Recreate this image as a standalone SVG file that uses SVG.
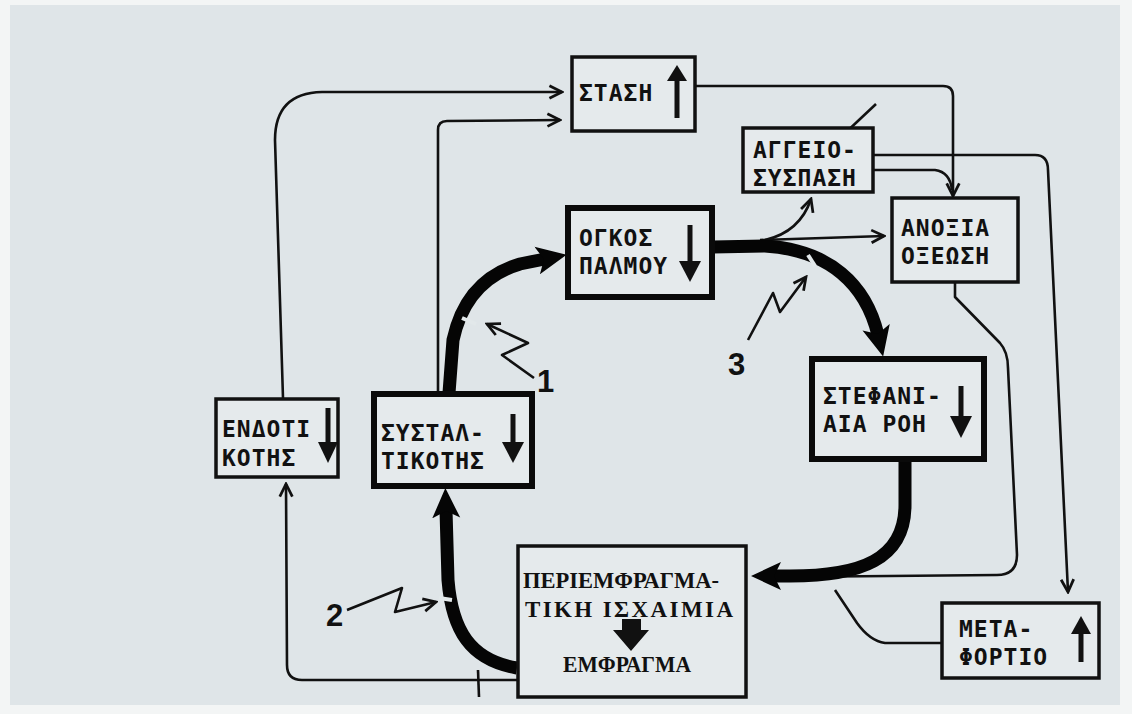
<svg xmlns="http://www.w3.org/2000/svg" width="1132" height="714" viewBox="0 0 1132 714">
<defs>
<style>
.box{fill:#e5eaec;stroke:#111;stroke-width:3.5}
.tbox{fill:#e5eaec;stroke:#0a0a0a;stroke-width:6}
.t{font-family:"DejaVu Sans Mono","Liberation Mono",monospace;font-weight:bold;font-size:23px;letter-spacing:1px;fill:#111}
.s{font-family:"Liberation Serif","DejaVu Serif",serif;font-weight:bold;font-size:23px;fill:#111}
.num{font-family:"Liberation Sans","DejaVu Sans",sans-serif;font-weight:bold;font-size:31px;fill:#111}
.thin{fill:none;stroke:#111;stroke-width:2.6;stroke-linejoin:round}
.thick{fill:none;stroke:#050505;stroke-width:13}
.ia{stroke:#111;stroke-width:5;fill:none}
.ih{fill:#111}
.gap{stroke:#e2e8ea;stroke-width:4}
</style>
<marker id="oa" markerUnits="userSpaceOnUse" viewBox="0 0 14 14" markerWidth="16" markerHeight="16" refX="12" refY="7" orient="auto">
<path d="M1,1.5 L12,7 L1,12.5" fill="none" stroke="#111" stroke-width="2.4"/>
</marker>
<marker id="ta" markerUnits="userSpaceOnUse" viewBox="0 0 30 30" markerWidth="30" markerHeight="30" refX="8" refY="15" orient="auto">
<path d="M0,1 L30,15 L0,29 L7,15 z" fill="#050505"/>
</marker>
</defs>
<rect width="1132" height="714" fill="#f3f5f5"/>
<rect x="10" y="5" width="1110" height="700" fill="#dfe5e8"/>

<g id="connectors">
<path class="thin" d="M283,398 L275,140 Q275,93 322,92 L562,92" marker-end="url(#oa)"/>
<path class="thin" d="M438,393 L438,130 Q438,121 447,121 L560,120" marker-end="url(#oa)"/>
<path class="thin" d="M696,86 L943,86 Q953,86 953,96 L953,196" marker-end="url(#oa)"/>
<path class="thin" d="M873,155 L1035,155 Q1048,155 1048,170 L1068,592" marker-end="url(#oa)"/>
<path class="thin" d="M873,170 L935,170 Q950,172 952,190"/>
<path class="thin" d="M760,240 L884,236" marker-end="url(#oa)"/>
<path class="thin" d="M765,240 Q800,232 811,199" marker-end="url(#oa)"/>
<path class="thin" d="M955,282 L955,297 L1000,343 Q1008,352 1008,368 L1017,555 Q1017,575 997,575 L780,577"/>
<path class="thin" d="M942,643 L885,643 Q870,641 857,623 L835,590"/>
<path class="thin" d="M517,680 L302,680 Q287,680 287,665 L286,484" marker-end="url(#oa)"/>
<path class="thin" d="M478,670 L479,697"/>
<path class="thin" stroke-width="1.6" d="M842,136 L876,104"/>

<path class="thick" d="M449,393 L453,340 Q466,280 520,264 L545,259" marker-end="url(#ta)"/>
<path class="thick" d="M713,247 L765,246 C830,250 866,285 878,335" marker-end="url(#ta)"/>
<path class="thick" d="M905,460 L905,505 C905,560 860,576 790,576 L773,576" marker-end="url(#ta)"/>
<path class="thick" d="M517,668 C470,660 452,630 448,580 L446,510" marker-end="url(#ta)"/>
<path class="gap" d="M462,318 L476,324"/>
<path class="gap" d="M808,255 L815,266"/>
<path class="gap" d="M439,598 L452,600"/>

<path class="thin" d="M534,378 L502,355 L528,343 L487,324" marker-end="url(#oa)"/>
<path class="thin" d="M347,610 L402,588 L395,612 L436,602" marker-end="url(#oa)"/>
<path class="thin" d="M748,340 L773,293 L780,312 L806,277" marker-end="url(#oa)"/>
<text class="num" x="537" y="392">1</text>
<text class="num" x="326" y="626">2</text>
<text class="num" x="728" y="375">3</text>
</g>

<g id="stasi">
<rect class="box" x="572" y="57" width="123" height="74"/>
<text class="t" x="579" y="101">ΣΤΑΣΗ</text>
<path class="ia" d="M677,118 L677,78"/><polygon class="ih" points="667,81 687,81 677,65"/>
</g>
<g id="aggeiosysp">
<rect class="box" x="743" y="128" width="130" height="64" stroke-width="3"/>
<text class="t" x="753" y="158">ΑΓΓΕΙΟ-</text>
<text class="t" x="753" y="186">ΣΥΣΠΑΣΗ</text>
</g>
<g id="anoxia">
<rect class="box" x="892" y="198" width="126" height="84"/>
<text class="t" x="901" y="236">ΑΝΟΞΙΑ</text>
<text class="t" x="901" y="264">ΟΞΕΩΣΗ</text>
</g>
<g id="ogkos">
<rect class="tbox" x="568" y="208" width="144" height="89"/>
<text class="t" x="579" y="246">ΟΓΚΟΣ</text>
<text class="t" x="579" y="274">ΠΑΛΜΟΥ</text>
<path class="ia" d="M690,225 L690,264"/><polygon class="ih" points="679,261 701,261 690,282"/>
</g>
<g id="stefaniaia">
<rect class="tbox" x="812" y="359" width="172" height="100"/>
<text class="t" x="823" y="404">ΣΤΕΦΑΝΙ-</text>
<text class="t" x="823" y="432">ΑΙΑ ΡΟΗ</text>
<path class="ia" d="M961,386 L961,419"/><polygon class="ih" points="950,416 972,416 961,438"/>
</g>
<g id="endotikotis">
<rect class="box" x="216" y="399" width="122" height="78" stroke-width="3"/>
<text class="t" x="222" y="437">ΕΝΔΟΤΙ</text>
<text class="t" x="222" y="466">ΚΟΤΗΣ</text>
<path class="ia" d="M328,408 L328,445"/><polygon class="ih" points="318,442 338,442 328,463"/>
</g>
<g id="systaltikotis">
<rect class="tbox" x="374" y="394" width="158" height="92"/>
<text class="t" x="381" y="441">ΣΥΣΤΑΛ-</text>
<text class="t" x="381" y="469">ΤΙΚΟΤΗΣ</text>
<path class="ia" d="M513,414 L513,445"/><polygon class="ih" points="502,442 524,442 513,463"/>
</g>
<g id="periemfragmatiki">
<rect class="box" x="518" y="546" width="228" height="151" stroke-width="5"/>
<text class="s" x="523" y="588" textLength="196" lengthAdjust="spacingAndGlyphs">ΠΕΡΙΕΜΦΡΑΓΜΑ-</text>
<text class="s" x="525" y="617" textLength="208" lengthAdjust="spacing">ΤΙΚΗ ΙΣΧΑΙΜΙΑ</text>
<polygon class="ih" points="622,619 641,619 641,630 649,630 631,651 613,630 622,630"/>
<text class="s" x="563" y="672" textLength="128" lengthAdjust="spacingAndGlyphs">ΕΜΦΡΑΓΜΑ</text>
</g>
<g id="metafortio">
<rect class="box" x="942" y="603" width="157" height="75"/>
<text class="t" x="959" y="637">ΜΕΤΑ-</text>
<text class="t" x="959" y="665">ΦΟΡΤΙΟ</text>
<path class="ia" d="M1081,662 L1081,630"/><polygon class="ih" points="1071,634 1091,634 1081,616"/>
</g>
</svg>
